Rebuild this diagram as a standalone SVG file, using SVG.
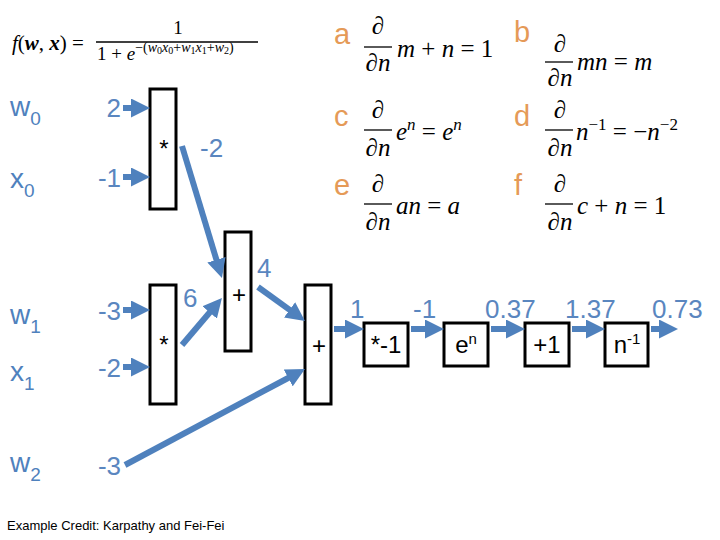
<svg xmlns="http://www.w3.org/2000/svg" width="720" height="540" viewBox="0 0 720 540">
<style>
.box{fill:#fff;stroke:#000;stroke-width:3}
.arr{stroke:#4F81BD;stroke-width:6;fill:none;marker-end:url(#ah)}
.v{font-family:"Liberation Sans",Arial,sans-serif;font-size:26px;fill:#5A86BF}
.var{font-family:"Liberation Sans",Arial,sans-serif;font-size:28px;fill:#4F81BD}
.sub{font-size:19px}
.op{font-family:"Liberation Sans",Arial,sans-serif;font-size:24px;fill:#000;text-anchor:middle}
.lt{font-family:"Liberation Sans",Arial,sans-serif;font-size:29px;fill:#E59A57}
.m{font-family:"Liberation Serif","DejaVu Serif",serif;font-style:italic;font-size:25px;fill:#000}
.mu{font-style:normal}
.bar{stroke:#000;stroke-width:1.3}
.f{font-family:"Liberation Serif","DejaVu Serif",serif;fill:#000}
</style>
<defs>
<marker id="ah" viewBox="0 0 10 10" refX="5" refY="5" markerWidth="19" markerHeight="19" markerUnits="userSpaceOnUse" orient="auto">
<path d="M0,0 L10,5 L0,10 z" fill="#4F81BD"/>
</marker>
</defs>
<rect width="720" height="540" fill="#fff"/>

<g id="formula">
<text class="f" x="12" y="50" font-size="21"><tspan font-style="italic">f</tspan>(<tspan font-weight="bold" font-style="italic">w</tspan>, <tspan font-weight="bold" font-style="italic">x</tspan>) =</text>
<text class="f" x="178" y="34" text-anchor="middle" font-size="19">1</text>
<line class="bar" x1="96" y1="42" x2="258" y2="42"/>
<text class="f" x="97" y="60" font-size="19">1 + <tspan font-style="italic">e</tspan><tspan font-size="14" dy="-8">−(<tspan font-style="italic">w</tspan><tspan font-size="10" dy="2">0</tspan><tspan font-style="italic" dy="-2">x</tspan><tspan font-size="10" dy="2">0</tspan><tspan dy="-2">+</tspan><tspan font-style="italic">w</tspan><tspan font-size="10" dy="2">1</tspan><tspan font-style="italic" dy="-2">x</tspan><tspan font-size="10" dy="2">1</tspan><tspan dy="-2">+</tspan><tspan font-style="italic">w</tspan><tspan font-size="10" dy="2">2</tspan><tspan dy="-2">)</tspan></tspan></text>
</g>

<g id="rules">
<text class="lt" x="334" y="44">a</text>
<text class="m" x="378" y="34" text-anchor="middle"><tspan class="mu">∂</tspan></text>
<line class="bar" x1="364" y1="47" x2="392" y2="47"/>
<text class="m" x="378" y="71" text-anchor="middle"><tspan class="mu">∂</tspan>n</text>
<text class="m" x="397" y="57">m <tspan class="mu">+</tspan> n <tspan class="mu">= 1</tspan></text>

<text class="lt" x="514" y="42">b</text>
<text class="m" x="560" y="52" text-anchor="middle"><tspan class="mu">∂</tspan></text>
<line class="bar" x1="545" y1="62" x2="573" y2="62"/>
<text class="m" x="560" y="86" text-anchor="middle"><tspan class="mu">∂</tspan>n</text>
<text class="m" x="577" y="70">mn <tspan class="mu">=</tspan> m</text>

<text class="lt" x="334" y="126">c</text>
<text class="m" x="378" y="118" text-anchor="middle"><tspan class="mu">∂</tspan></text>
<line class="bar" x1="364" y1="130" x2="392" y2="130"/>
<text class="m" x="378" y="156" text-anchor="middle"><tspan class="mu">∂</tspan>n</text>
<text class="m" x="396" y="140">e<tspan font-size="17" dy="-10">n</tspan><tspan class="mu" dy="10"> = </tspan>e<tspan font-size="17" dy="-10">n</tspan></text>

<text class="lt" x="514" y="126">d</text>
<text class="m" x="560" y="118" text-anchor="middle"><tspan class="mu">∂</tspan></text>
<line class="bar" x1="545" y1="130" x2="573" y2="130"/>
<text class="m" x="560" y="156" text-anchor="middle"><tspan class="mu">∂</tspan>n</text>
<text class="m" x="576" y="140">n<tspan class="mu" font-size="17" dy="-10">−1</tspan><tspan class="mu" dy="10"> = −</tspan>n<tspan class="mu" font-size="17" dy="-10">−2</tspan></text>

<text class="lt" x="334" y="195">e</text>
<text class="m" x="378" y="192" text-anchor="middle"><tspan class="mu">∂</tspan></text>
<line class="bar" x1="364" y1="204" x2="392" y2="204"/>
<text class="m" x="378" y="230" text-anchor="middle"><tspan class="mu">∂</tspan>n</text>
<text class="m" x="396" y="214">an <tspan class="mu">=</tspan> a</text>

<text class="lt" x="514" y="195">f</text>
<text class="m" x="560" y="192" text-anchor="middle"><tspan class="mu">∂</tspan></text>
<line class="bar" x1="545" y1="204" x2="573" y2="204"/>
<text class="m" x="560" y="230" text-anchor="middle"><tspan class="mu">∂</tspan>n</text>
<text class="m" x="577" y="214">c <tspan class="mu">+</tspan> n <tspan class="mu">= 1</tspan></text>
</g>

<g id="inputs">
<text class="var" x="10" y="116">w<tspan class="sub" dy="9">0</tspan></text>
<text class="var" x="10" y="188">x<tspan class="sub" dy="9">0</tspan></text>
<text class="var" x="10" y="324">w<tspan class="sub" dy="9">1</tspan></text>
<text class="var" x="10" y="381">x<tspan class="sub" dy="9">1</tspan></text>
<text class="var" x="10" y="472">w<tspan class="sub" dy="9">2</tspan></text>
<text class="v" x="121" y="117" text-anchor="end">2</text>
<text class="v" x="121" y="187" text-anchor="end">-1</text>
<text class="v" x="121" y="320" text-anchor="end">-3</text>
<text class="v" x="121" y="377" text-anchor="end">-2</text>
<text class="v" x="121" y="475" text-anchor="end">-3</text>
</g>

<g id="mul0"><rect class="box" x="150" y="89" width="26" height="120"/><text class="op" x="164" y="157">*</text></g>
<g id="mul1"><rect class="box" x="150" y="285" width="26" height="119"/><text class="op" x="164" y="353">*</text></g>
<g id="add0"><rect class="box" x="225" y="232" width="26" height="119"/><text class="op" x="239" y="303">+</text></g>
<g id="add1"><rect class="box" x="305" y="285" width="26" height="119"/><text class="op" x="319" y="354">+</text></g>
<g id="neg"><rect class="box" x="364" y="323" width="44" height="43"/><text class="op" x="386" y="353">*-1</text></g>
<g id="exp"><rect class="box" x="444" y="323" width="44" height="43"/><text class="op" x="466" y="353">e<tspan font-size="15" dy="-9">n</tspan></text></g>
<g id="plus1"><rect class="box" x="525" y="323" width="44" height="43"/><text class="op" x="547" y="353">+1</text></g>
<g id="inv"><rect class="box" x="605" y="323" width="43" height="43"/><text class="op" x="627" y="353">n<tspan font-size="15" dy="-9">-1</tspan></text></g>

<g id="connectors">
<line class="arr" x1="123" y1="108" x2="140.5" y2="108"/>
<line class="arr" x1="123" y1="177" x2="140.5" y2="177"/>
<line class="arr" x1="123" y1="310" x2="140.5" y2="310"/>
<line class="arr" x1="123" y1="367" x2="140.5" y2="367"/>
<line class="arr" x1="182" y1="146" x2="219.2" y2="268.9"/>
<line class="arr" x1="182" y1="345" x2="215.8" y2="305.2"/>
<line class="arr" x1="258" y1="287" x2="297.3" y2="315.4"/>
<line class="arr" x1="125" y1="465" x2="296.6" y2="373.5"/>
<line class="arr" x1="334" y1="329" x2="354.5" y2="329"/>
<line class="arr" x1="411" y1="329" x2="434.5" y2="329"/>
<line class="arr" x1="491" y1="329" x2="515.5" y2="329"/>
<line class="arr" x1="572" y1="329" x2="595.5" y2="329"/>
<line class="arr" x1="651" y1="329" x2="668.5" y2="329"/>
</g>

<g id="values">
<text class="v" x="200" y="157">-2</text>
<text class="v" x="183" y="307">6</text>
<text class="v" x="257" y="277">4</text>
<text class="v" x="350" y="318">1</text>
<text class="v" x="413" y="318">-1</text>
<text class="v" x="485" y="318">0.37</text>
<text class="v" x="565" y="318">1.37</text>
<text class="v" x="652" y="318">0.73</text>
</g>

<text x="7" y="530" font-family="Liberation Sans,Arial,sans-serif" font-size="13" fill="#000">Example Credit: Karpathy and Fei-Fei</text>
</svg>
